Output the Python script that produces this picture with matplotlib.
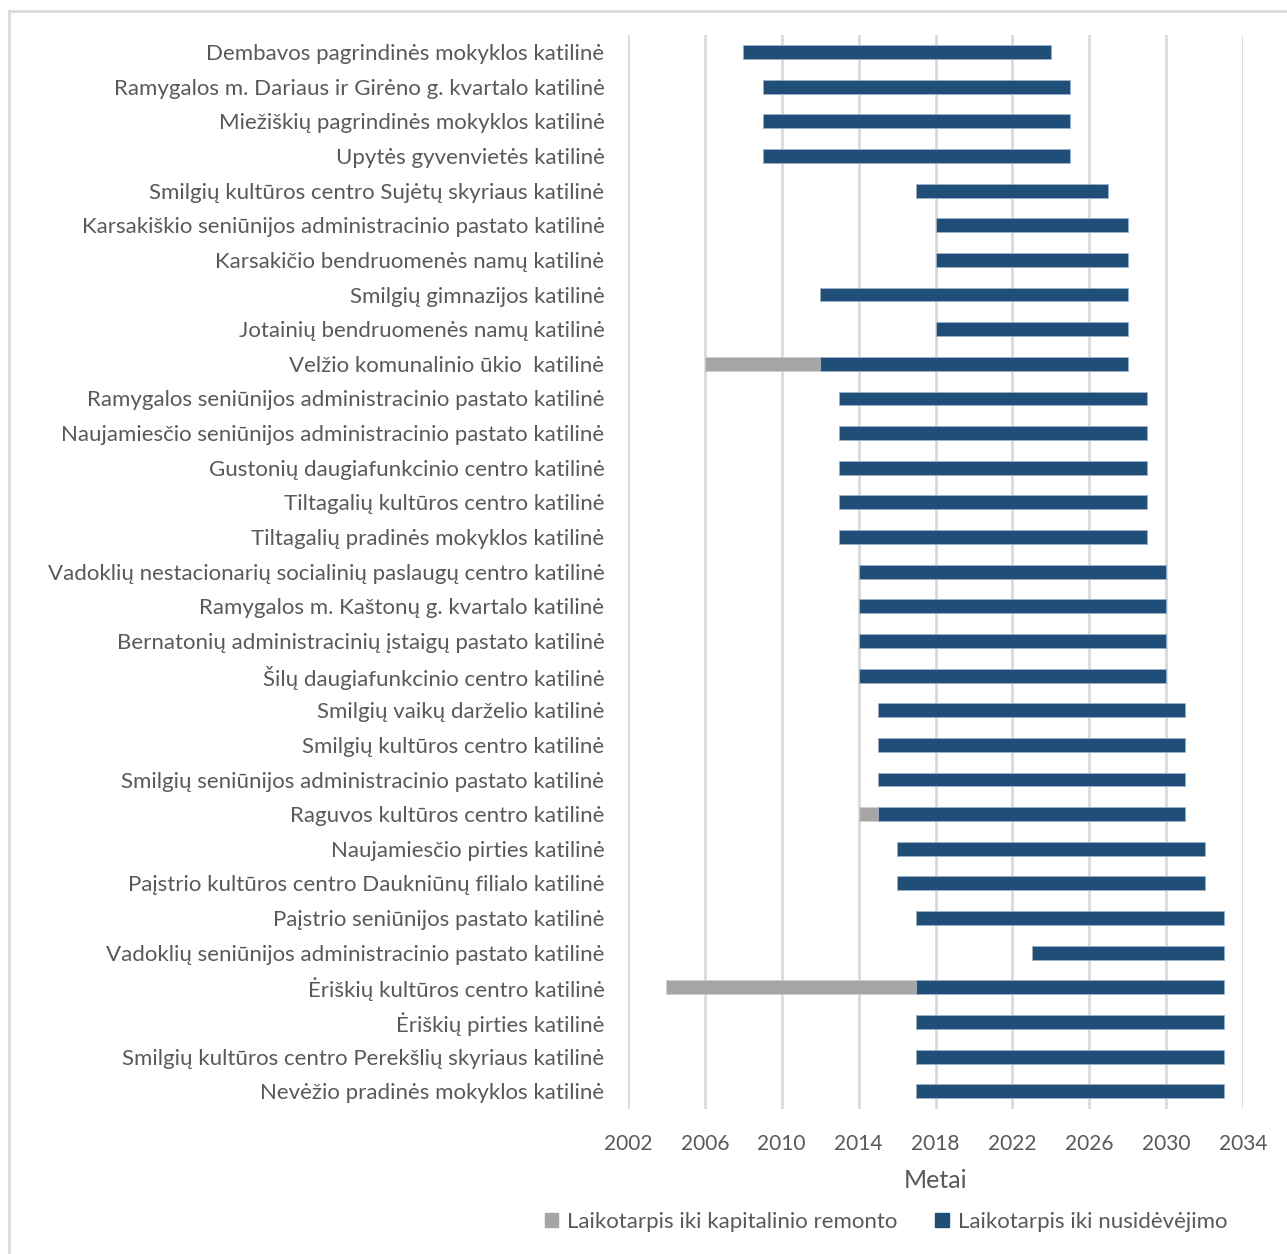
import matplotlib
matplotlib.use("Agg")
import matplotlib.pyplot as plt
from matplotlib.patches import Patch
from matplotlib.lines import Line2D
import numpy as np

plt.rcParams['font.family'] = ['Lato', 'DejaVu Sans']

categories = [
    "Dembavos pagrindinės mokyklos katilinė",
    "Ramygalos m. Dariaus ir Girėno g. kvartalo katilinė",
    "Miežiškių pagrindinės mokyklos katilinė",
    "Upytės gyvenvietės katilinė",
    "Smilgių kultūros centro Sujėtų skyriaus katilinė",
    "Karsakiškio seniūnijos administracinio pastato katilinė",
    "Karsakičio bendruomenės namų katilinė",
    "Smilgių gimnazijos katilinė",
    "Jotainių bendruomenės namų katilinė",
    "Velžio komunalinio ūkio  katilinė",
    "Ramygalos seniūnijos administracinio pastato katilinė",
    "Naujamiesčio seniūnijos administracinio pastato katilinė",
    "Gustonių daugiafunkcinio centro katilinė",
    "Tiltagalių kultūros centro katilinė",
    "Tiltagalių pradinės mokyklos katilinė",
    "Vadoklių nestacionarių socialinių paslaugų centro katilinė",
    "Ramygalos m. Kaštonų g. kvartalo katilinė",
    "Bernatonių administracinių įstaigų pastato katilinė",
    "Šilų daugiafunkcinio centro katilinė",
    "Smilgių vaikų darželio katilinė",
    "Smilgių kultūros centro katilinė",
    "Smilgių seniūnijos administracinio pastato katilinė",
    "Raguvos kultūros centro katilinė",
    "Naujamiesčio pirties katilinė",
    "Paįstrio kultūros centro Daukniūnų filialo katilinė",
    "Paįstrio seniūnijos pastato katilinė",
    "Vadoklių seniūnijos administracinio pastato katilinė",
    "Ėriškių kultūros centro katilinė",
    "Ėriškių pirties katilinė",
    "Smilgių kultūros centro Perekšlių skyriaus katilinė",
    "Nevėžio pradinės mokyklos katilinė",
]

start_year = [2008, 2009, 2009, 2009, 2017, 2018, 2018, 2012, 2018, 2006,
              2013, 2013, 2013, 2013, 2013, 2014, 2014, 2014, 2014, 2015,
              2015, 2015, 2014, 2016, 2016, 2017, 2023, 2004, 2017, 2017, 2017]
iki_kapitalinio_remonto = [0, 0, 0, 0, 0, 0, 0, 0, 0, 6,
                           0, 0, 0, 0, 0, 0, 0, 0, 0, 0,
                           0, 0, 1, 0, 0, 0, 0, 13, 0, 0, 0]
iki_nusidevejimo = [16, 16, 16, 16, 10, 10, 10, 16, 10, 16,
                    16, 16, 16, 16, 16, 16, 16, 16, 16, 16,
                    16, 16, 16, 16, 16, 16, 10, 16, 16, 16, 16]

xticks = [2002, 2006, 2010, 2014, 2018, 2022, 2026, 2030, 2034]
series_names = ["Laikotarpis iki kapitalinio remonto", "Laikotarpis iki nusidėvėjimo"]

GREY = "#A5A5A5"
BLUE = "#1F4E79"
TXT = "#595959"

W, H = 1287, 1254
fig = plt.figure(figsize=(W / 100, H / 100), dpi=100)
ax = fig.add_axes([628 / W, 1 - 1108.6 / H, (1243 - 628) / W, (1108.6 - 34.7) / H])

y = np.arange(len(categories))
start = np.array(start_year, dtype=float)
grey = np.array(iki_kapitalinio_remonto, dtype=float)
blue = np.array(iki_nusidevejimo, dtype=float)

ax.barh(y, grey, left=start, height=0.4, color=GREY, edgecolor="#d0d0d0", linewidth=0.6, zorder=3)
ax.barh(y, blue, left=start + grey, height=0.4, color=BLUE, edgecolor="#9db3cc", linewidth=0.6, zorder=3)

ax.set_ylim(len(categories) - 0.5, -0.5)
ax.set_xlim(2002, 2034)
ax.set_xticks(xticks)
ax.set_xticklabels([str(t) for t in xticks])
ax.set_yticks(y)
ax.set_yticklabels(categories)

ax.grid(axis="x", color="#D9D9D9", linewidth=2, zorder=0)
ax.set_axisbelow(True)
for s in ax.spines.values():
    s.set_visible(False)
ax.tick_params(axis="both", length=0, labelcolor=TXT)
ax.tick_params(axis="y", pad=17, labelsize=16)
ax.tick_params(axis="x", pad=18, labelsize=15)
ax.set_xlabel("Metai", fontsize=18, color=TXT, labelpad=11)

handles = [Patch(facecolor=GREY, edgecolor=GREY), Patch(facecolor=BLUE, edgecolor=BLUE)]
fig.legend(handles, series_names, loc="center", bbox_to_anchor=(886 / W, 1 - 1222 / H),
           ncol=2, frameon=False, fontsize=16, labelcolor=TXT,
           handlelength=0.6, handleheight=0.6, handletextpad=0.4, columnspacing=1.7)

# chart area border
fig.add_artist(Line2D([9 / W, 9 / W], [0, 1 - 11 / H], transform=fig.transFigure, color="#D9D9D9", lw=2))
fig.add_artist(Line2D([9 / W, 1], [1 - 11 / H, 1 - 11 / H], transform=fig.transFigure, color="#D9D9D9", lw=2))

fig.savefig("out.png", dpi=100, facecolor="white")
